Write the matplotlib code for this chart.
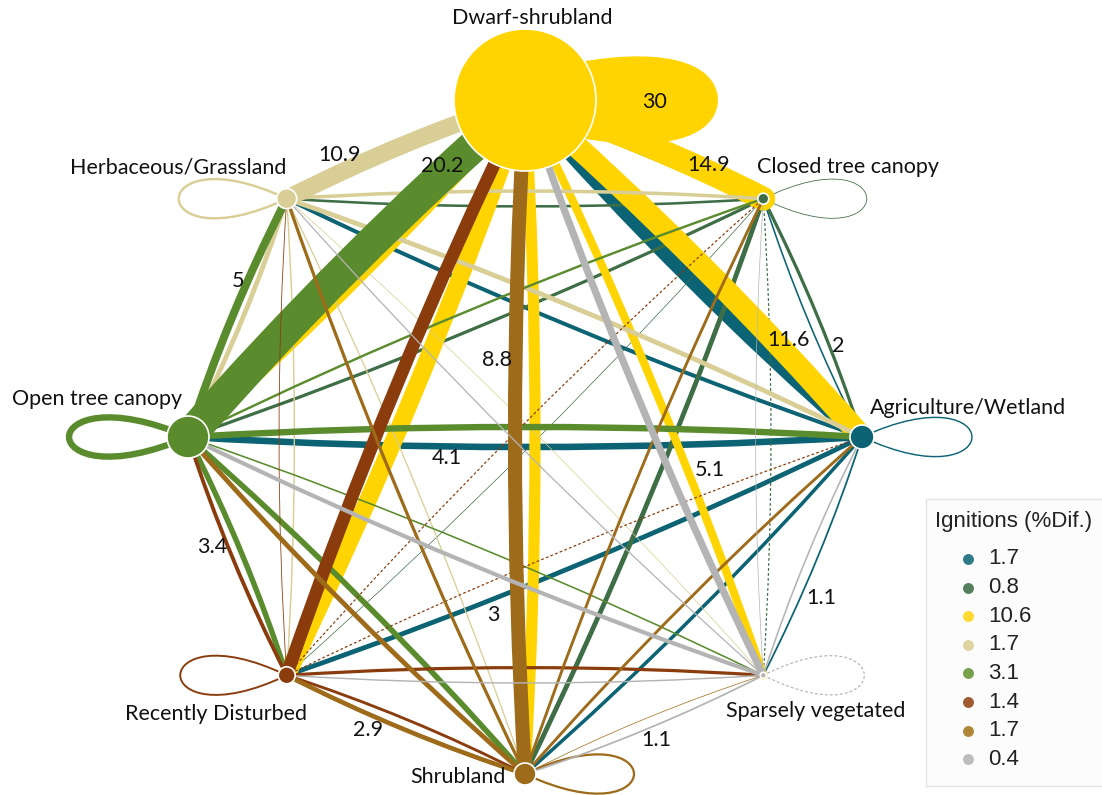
import numpy as np
import matplotlib.pyplot as plt
from matplotlib.path import Path as MPath
from matplotlib.patches import PathPatch, Circle, Rectangle


# ---------------------------------------------------------------------
# Data
# ---------------------------------------------------------------------

nodes = [
    "Agriculture/Wetland",
    "Closed tree canopy",
    "Dwarf-shrubland",
    "Herbaceous/Grassland",
    "Open tree canopy",
    "Recently Disturbed",
    "Shrubland",
    "Sparsely vegetated",
]

# legend values: ignitions (%Dif.)
ignitions = [1.7, 0.8, 10.6, 1.7, 3.1, 1.4, 1.7, 0.4]

# node size (radius, px)
node_size = [12, 5.5, 71, 10, 21, 8.5, 11, 3]

# transition flows, rows = from, cols = to (same order as nodes)
flows = [
    [0.9, 1.0, 11.6, 2.5, 4.1, 3.0, 2.2, 1.1],
    [2.0, 0.5, 2.0, 1.6, 2.0, 0.3, 3.0, 0.1],
    [14.0, 14.9, 30.0, 0.0, 8.0, 11.0, 7.0, 5.1],
    [3.0, 2.2, 10.9, 1.5, 3.0, 0.9, 0.8, 0.4],
    [4.0, 1.5, 20.2, 5.0, 4.0, 3.4, 3.5, 1.0],
    [0.1, 0.1, 8.0, 0.5, 2.4, 1.2, 1.8, 2.0],
    [1.8, 1.8, 8.8, 2.0, 3.0, 2.9, 1.4, 0.4],
    [1.0, 0.3, 4.5, 0.8, 2.6, 0.9, 1.1, 0.1],
]

# edges whose value is printed (from, to)
labelled_edges = [
    (2, 2), (2, 1), (4, 2), (3, 2), (4, 3), (0, 2), (1, 0), (6, 2),
    (0, 4), (2, 7), (4, 5), (0, 5), (6, 5), (0, 7), (7, 6),
]


# ---------------------------------------------------------------------
# Style / layout
# ---------------------------------------------------------------------

W, H = 1102, 795
CX, CY, R = 525, 437, 337

node_colors = ["#0B6374", "#3E6E46", "#FFD400", "#D8CE96",
               "#5A8C2E", "#8B3C0C", "#9E6B1A", "#B4B4B4"]
legend_colors = ["#2E7B8A", "#547F5D", "#FFD92F", "#DDD4A2",
                 "#77A04D", "#A05A30", "#B08738", "#BDBDBD"]

loop_side = [1, 1, 1, -1, -1, -1, 1, 1]

# label placement in pixels
node_label_pos = [(968, 408), (848, 167), (532, 18), (178, 168),
                  (97, 399), (216, 714), (458, 777), (816, 711)]
edge_label_pos = [(655, 102), (709, 165), (442, 166), (340, 155), (238, 281),
                  (788, 340), (838, 346), (497, 360), (447, 458), (710, 470),
                  (212, 547), (493, 615), (368, 730), (821, 598), (656, 740)]

PX_PER_UNIT = 1.6
LABEL_FONT = ["Lato", "DejaVu Sans"]
LEGEND_FONT = ["Liberation Sans", "DejaVu Sans"]


def node_xy(i):
    a = np.deg2rad(45 * i)
    return np.array([CX + R * np.cos(a), CY - R * np.sin(a)])


def width_pt(w):
    return max(w * PX_PER_UNIT * 0.72, 0.5)


def edge_path(s, t):
    p0, p2 = node_xy(s), node_xy(t)
    d = p2 - p0
    length = np.hypot(*d)
    n = np.array([d[1], -d[0]]) / length
    bulge = 0.012 * length + 2
    p1 = (p0 + p2) / 2 + n * 2 * bulge
    return MPath([p0, p1, p2], [MPath.MOVETO, MPath.CURVE3, MPath.CURVE3])


def loop_path(i):
    c = node_xy(i)
    side = loop_side[i]
    lx = (node_size[i] + 98) / 0.75
    hh = 68
    pts = [c, c + [side * lx, -hh], c + [side * lx, hh], c]
    return MPath(pts, [MPath.MOVETO, MPath.CURVE4, MPath.CURVE4, MPath.CURVE4])


# ---------------------------------------------------------------------
# Plot
# ---------------------------------------------------------------------

fig = plt.figure(figsize=(W / 100, H / 100), dpi=100)
ax = fig.add_axes([0, 0, 1, 1])
ax.set_xlim(0, W)
ax.set_ylim(H, 0)
ax.axis("off")

for s in range(len(nodes)):
    for t in range(len(nodes)):
        w = flows[s][t]
        if w <= 0:
            continue
        path = loop_path(s) if s == t else edge_path(s, t)
        if w < 0.15:
            style = dict(lw=0.9, linestyle=(0, (1.5, 2.5)))
        else:
            style = dict(lw=width_pt(w), linestyle="-")
        ax.add_patch(PathPatch(path, fill=False, edgecolor=node_colors[s],
                               capstyle="round", joinstyle="round",
                               zorder=1, **style))

for i, name in enumerate(nodes):
    ax.add_patch(Circle(node_xy(i), node_size[i], facecolor=node_colors[i],
                        edgecolor="white", lw=1.2, zorder=3))
    x, y = node_label_pos[i]
    ax.text(x, y, name, ha="center", va="center", fontsize=15.5,
            family=LABEL_FONT, color="#111111", zorder=4)

for (s, t), (x, y) in zip(labelled_edges, edge_label_pos):
    ax.text(x, y, f"{flows[s][t]:g}", ha="center", va="center", fontsize=15.5,
            family=LABEL_FONT, color="#111111", zorder=4)

# legend
ax.add_patch(Rectangle((926, 499), 200, 287, facecolor="#FCFCFC",
                       edgecolor="#E3E3E3", lw=1, zorder=5))
ax.text(935, 522, "Ignitions (%Dif.)", ha="left", va="center", fontsize=16,
        family=LEGEND_FONT, color="#222222", zorder=6)
for i, v in enumerate(ignitions):
    y = 559 + i * 28.6
    ax.scatter([968], [y], s=62, color=legend_colors[i], zorder=6, linewidths=0)
    ax.text(988, y, f"{v:g}", ha="left", va="center", fontsize=16,
            family=LEGEND_FONT, color="#222222", zorder=6)

fig.savefig("out.png", dpi=100)
